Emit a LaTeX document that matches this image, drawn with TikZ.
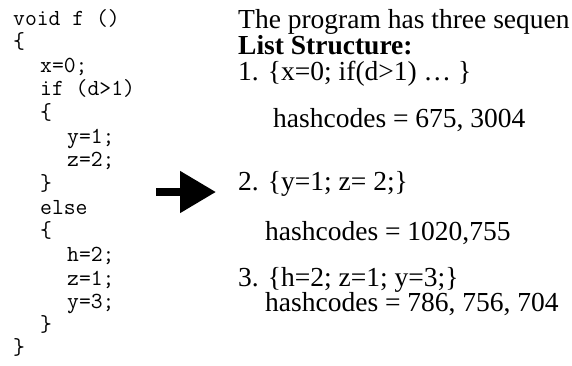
\documentclass[tikz,border=0pt]{standalone}
\usepackage{fontspec}
\setmainfont{Liberation Serif}
\usepackage{tikz}
\usetikzlibrary{positioning,arrows.meta}

\tikzset{
	codeline/.style={anchor=base west, inner sep=0pt, font=\fontsize{23}{24}\ttfamily},
	listline/.style={anchor=base west, inner sep=0pt, font=\fontsize{27.5}{30}\selectfont},
}

\begin{document}
\begin{tikzpicture}[x=1pt, y=-1pt]
				\useasboundingbox (0,0) rectangle (572,365);
				\clip (0,0) rectangle (572,365);
				% the function
				\node[codeline] (C1) at (13, 25) {void f ()};
				\node[codeline] (C2) at (13, 48.5) {\{};
				\node[codeline] (C3) at (40, 72) {x=0;};
				\node[codeline] (C4) at (40, 95.5) {if (d>1)};
				\node[codeline] (C5) at (40, 119) {\{};
				\node[codeline] (C6) at (67, 143) {y=1;};
				\node[codeline] (C7) at (67, 166.5) {z=2;};
				\node[codeline] (C8) at (40, 190) {\}};
				\node[codeline] (C9) at (40, 214) {else};
				\node[codeline] (C10) at (40, 237.5) {\{};
				\node[codeline] (C11) at (67, 261.5) {h=2;};
				\node[codeline] (C12) at (67, 285) {z=1;};
				\node[codeline] (C13) at (67, 308) {y=3;};
				\node[codeline] (C14) at (40, 331) {\}};
				\node[codeline] (C15) at (13, 354) {\}};
				% the list structure
				\node[listline] (T) at (238, 28) {The program has three sequen};
				\node[listline, font=\fontsize{27.5}{30}\bfseries] (L) at (238, 54) {List Structure:};
				\node[listline] (S1) at (238, 80) {1. \{x=0; if(d>1) … \}};
				\node[listline] (H1) at (273, 127) {hashcodes = 675, 3004};
				\node[listline] (S2) at (238, 190) {2. \{y=1; z= 2;\}};
				\node[listline] (H2) at (265, 240) {hashcodes = 1020,755};
				\node[listline] (S3) at (238, 286) {3. \{h=2; z=1; y=3;\}};
				\node[listline] (H3) at (265, 311) {hashcodes = 786, 756, 704};
				% big arrow
				\coordinate (tail) at (156, 192);
				\coordinate (tip) at (216, 192);
				\draw[line width=8pt, -{Triangle[length=36pt, width=40pt]}] (tail) -- (tip);
\end{tikzpicture}
\end{document}
